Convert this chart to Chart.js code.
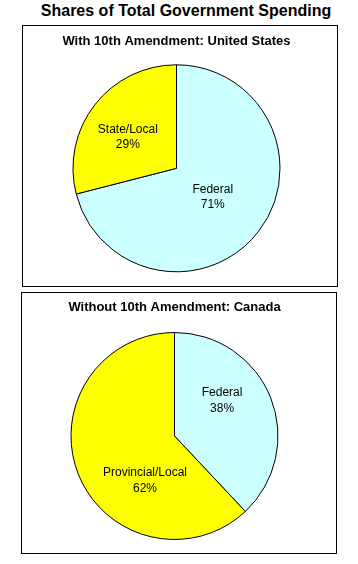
<!DOCTYPE html>
<html>
<head>
<meta charset="utf-8">
<script src="https://cdn.jsdelivr.net/npm/chart.js@4"></script>
<style>
  html, body { margin: 0; padding: 0; background: #fff; }
  #page { position: relative; width: 358px; height: 564px; overflow: hidden; font-family: "Liberation Sans", Arial, sans-serif; }
  #mainTitle { position: absolute; left: 36px; top: 3px; width: 300px; text-align: center; font-weight: bold; font-size: 16px; line-height: 16px; color: #000; white-space: nowrap; }
  .panel { position: absolute; width: 316px; height: 262px; box-sizing: border-box; border: 1px solid #000; }
  .panel canvas { position: absolute; left: 0; top: 0; }
</style>
</head>
<body>
<div id="page">
  <div id="mainTitle"></div>
  <div class="panel" id="p1" style="left:22px; top:25px;"><canvas id="c1" width="314" height="260"></canvas></div>
  <div class="panel" id="p2" style="left:21px; top:292px;"><canvas id="c2" width="314" height="260"></canvas></div>
</div>
<script>
const mainTitle = 'Shares of Total Government Spending';
const usTitle = 'With 10th Amendment: United States';
const usCategories = ['Federal', 'State/Local'];
const usShares = [71, 29];
const caTitle = 'Without 10th Amendment: Canada';
const caCategories = ['Federal', 'Provincial/Local'];
const caShares = [38, 62];

document.getElementById('mainTitle').textContent = mainTitle;

const FONT = '"Liberation Sans", Arial, sans-serif';

const sliceLabels = {
  id: 'sliceLabels',
  afterDatasetsDraw(chart, args, opts) {
    const ctx = chart.ctx;
    const meta = chart.getDatasetMeta(0);
    const ds = chart.data.datasets[0];
    ctx.save();
    ctx.font = '12px ' + FONT;
    ctx.fillStyle = '#000';
    ctx.textAlign = 'center';
    ctx.textBaseline = 'middle';
    meta.data.forEach((arc, i) => {
      const p = arc.getProps(['x', 'y', 'outerRadius'], true);
      const off = opts.offsets[i];
      const cx = p.x + off[0] * p.outerRadius;
      const cy = p.y + off[1] * p.outerRadius;
      ctx.fillText(chart.data.labels[i], cx, cy - opts.gap / 2);
      ctx.fillText(ds.data[i] + '%', cx, cy + opts.gap / 2);
    });
    ctx.restore();
  }
};

function makePie(id, title, labels, values, titlePad, padRight, offsets) {
  return new Chart(document.getElementById(id), {
    type: 'pie',
    data: {
      labels: labels,
      datasets: [{
        data: values,
        backgroundColor: labels.map(l => l === 'Federal' ? '#CCFFFF' : '#FFFF00'),
        borderColor: '#000',
        borderWidth: 1,
        radius: 103.5
      }]
    },
    options: {
      responsive: false,
      animation: false,
      layout: { padding: { left: 0, right: padRight, top: 0, bottom: 0 } },
      plugins: {
        legend: { display: false },
        tooltip: { enabled: false },
        title: {
          display: true,
          text: title,
          color: '#000',
          font: { family: FONT, size: 13, weight: 'bold', lineHeight: 1.2 },
          padding: titlePad
        },
        sliceLabels: { offsets: offsets, gap: 15.5 }
      }
    },
    plugins: [sliceLabels]
  });
}

makePie('c1', usTitle, usCategories, usShares, { top: 8, bottom: 1 }, 7,
  [[0.35, 0.28], [-0.47, -0.30]]);
makePie('c2', caTitle, caCategories, caShares, { top: 6.7, bottom: 3.7 }, 9,
  [[0.46, -0.34], [-0.285, 0.43]]);
</script>
</body>
</html>
